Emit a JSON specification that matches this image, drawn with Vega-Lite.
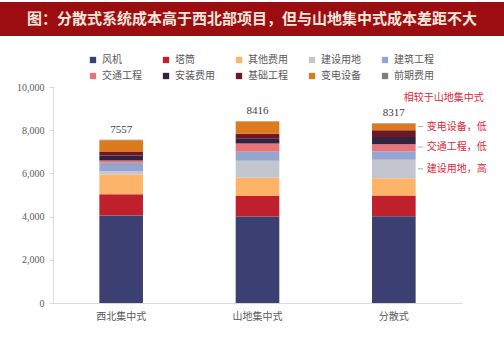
{
  "$schema": "https://vega.github.io/schema/vega-lite/v6.json",
  "padding": {"top": 2, "left": 0, "right": 0, "bottom": 0},
  "background": "white",
  "spacing": 46,
  "config": {"view": {"stroke": null}, "font": "Noto Sans CJK SC"},
  "datasets": {
    "costs": [
      {"cat": "西北集中式", "item": "风机", "k": 1, "value": 4050},
      {"cat": "西北集中式", "item": "塔筒", "k": 2, "value": 980},
      {"cat": "西北集中式", "item": "其他费用", "k": 3, "value": 920},
      {"cat": "西北集中式", "item": "建设用地", "k": 4, "value": 150},
      {"cat": "西北集中式", "item": "建筑工程", "k": 5, "value": 390},
      {"cat": "西北集中式", "item": "交通工程", "k": 6, "value": 110},
      {"cat": "西北集中式", "item": "安装费用", "k": 7, "value": 230},
      {"cat": "西北集中式", "item": "基础工程", "k": 8, "value": 160},
      {"cat": "西北集中式", "item": "变电设备", "k": 9, "value": 540},
      {"cat": "西北集中式", "item": "前期费用", "k": 10, "value": 27},
      {"cat": "山地集中式", "item": "风机", "k": 1, "value": 4000},
      {"cat": "山地集中式", "item": "塔筒", "k": 2, "value": 950},
      {"cat": "山地集中式", "item": "其他费用", "k": 3, "value": 850},
      {"cat": "山地集中式", "item": "建设用地", "k": 4, "value": 780},
      {"cat": "山地集中式", "item": "建筑工程", "k": 5, "value": 420},
      {"cat": "山地集中式", "item": "交通工程", "k": 6, "value": 380},
      {"cat": "山地集中式", "item": "安装费用", "k": 7, "value": 250},
      {"cat": "山地集中式", "item": "基础工程", "k": 8, "value": 200},
      {"cat": "山地集中式", "item": "变电设备", "k": 9, "value": 570},
      {"cat": "山地集中式", "item": "前期费用", "k": 10, "value": 16},
      {"cat": "分散式", "item": "风机", "k": 1, "value": 4020},
      {"cat": "分散式", "item": "塔筒", "k": 2, "value": 960},
      {"cat": "分散式", "item": "其他费用", "k": 3, "value": 800},
      {"cat": "分散式", "item": "建设用地", "k": 4, "value": 850},
      {"cat": "分散式", "item": "建筑工程", "k": 5, "value": 400},
      {"cat": "分散式", "item": "交通工程", "k": 6, "value": 320},
      {"cat": "分散式", "item": "安装费用", "k": 7, "value": 340},
      {"cat": "分散式", "item": "基础工程", "k": 8, "value": 310},
      {"cat": "分散式", "item": "变电设备", "k": 9, "value": 300},
      {"cat": "分散式", "item": "前期费用", "k": 10, "value": 17}
    ],
    "totals": [
      {"cat": "西北集中式", "total": 7557},
      {"cat": "山地集中式", "total": 8416},
      {"cat": "分散式", "total": 8317}
    ],
    "header": [
      {"cat": "分散式", "y": 9490, "label": "相较于山地集中式"}
    ],
    "notes": [
      {"cat": "分散式", "y": 8170, "label": "变电设备，低"},
      {"cat": "分散式", "y": 7220, "label": "交通工程，低"},
      {"cat": "分散式", "y": 6210, "label": "建设用地，高"}
    ],
    "titlerow": [{"t": "图：分散式系统成本高于西北部项目，但与山地集中式成本差距不大"}]
  },
  "vconcat": [
    {
      "width": 504,
      "height": 34,
      "view": {"fill": "#9C0D12", "stroke": null},
      "data": {"name": "titlerow"},
      "mark": {"type": "text", "fontSize": 15, "fontWeight": "bold", "color": "#F6E7DC", "font": "Noto Sans CJK SC"},
      "encoding": {"text": {"field": "t"}}
    },
    {
      "width": 462,
      "height": 216,
      "encoding": {
        "x": {
          "field": "cat", "type": "nominal",
          "sort": ["西北集中式", "山地集中式", "分散式"],
          "scale": {"range": [53, 462], "paddingInner": 0.68, "paddingOuter": 0.34},
          "axis": {"title": null, "labelAngle": 0, "domainColor": "#D9D9D9", "ticks": false, "labelPadding": 8, "labelFont": "Noto Sans CJK SC", "labelFontSize": 10, "labelColor": "#595959"}
        }
      },
      "layer": [
        {
          "data": {"name": "costs"},
          "mark": {"type": "bar"},
          "encoding": {
            "y": {
              "field": "value", "type": "quantitative", "stack": "zero",
              "scale": {"domain": [0, 10000]},
              "axis": {"title": null, "offset": -53, "values": [0, 2000, 4000, 6000, 8000, 10000], "format": ",.0f", "grid": false, "domainColor": "#D9D9D9", "tickColor": "#D9D9D9", "tickSize": 4, "labelPadding": 5, "labelFont": "Liberation Serif", "labelFontSize": 10, "labelColor": "#595959"}
            },
            "order": {"field": "k", "type": "quantitative"},
            "color": {
              "field": "item", "type": "nominal",
              "scale": {
                "domain": ["风机", "塔筒", "其他费用", "建设用地", "建筑工程", "交通工程", "安装费用", "基础工程", "变电设备", "前期费用"],
                "range": ["#3B3F72", "#C0202B", "#FDB468", "#C4C6CF", "#94A6D0", "#E8747A", "#2F2440", "#701624", "#DC7A1E", "#7F7F7F"]
              },
              "legend": {"orient": "none", "legendX": 88, "legendY": 53, "direction": "horizontal", "columns": 5, "title": null, "symbolType": "square", "symbolSize": 40, "symbolStrokeWidth": 0, "labelFontSize": 10, "labelColor": "#595959", "labelFont": "Noto Sans CJK SC", "columnPadding": 19, "rowPadding": 6, "labelOffset": 4}
            }
          }
        },
        {
          "data": {"name": "totals"},
          "mark": {"type": "text", "baseline": "bottom", "dy": -5, "font": "Liberation Serif", "fontSize": 11, "color": "#404040"},
          "encoding": {
            "y": {"field": "total", "type": "quantitative"},
            "text": {"field": "total", "type": "quantitative", "format": "d"}
          }
        },
        {
          "data": {"name": "notes"},
          "mark": {"type": "rule", "color": "#B8A8A8", "strokeWidth": 1},
          "encoding": {
            "x": {"field": "cat", "type": "nominal", "bandPosition": 1.05},
            "x2": {"field": "cat", "bandPosition": 1.17},
            "y": {"field": "y", "type": "quantitative"}
          }
        },
        {
          "data": {"name": "notes"},
          "mark": {"type": "text", "align": "left", "dx": 33, "fontSize": 10, "color": "#E3263A", "font": "Noto Sans CJK SC"},
          "encoding": {
            "y": {"field": "y", "type": "quantitative"},
            "text": {"field": "label"}
          }
        },
        {
          "data": {"name": "header"},
          "mark": {"type": "text", "align": "left", "dx": 10, "fontSize": 10, "color": "#E3263A", "font": "Noto Sans CJK SC"},
          "encoding": {
            "y": {"field": "y", "type": "quantitative"},
            "text": {"field": "label"}
          }
        }
      ]
    }
  ]
}
